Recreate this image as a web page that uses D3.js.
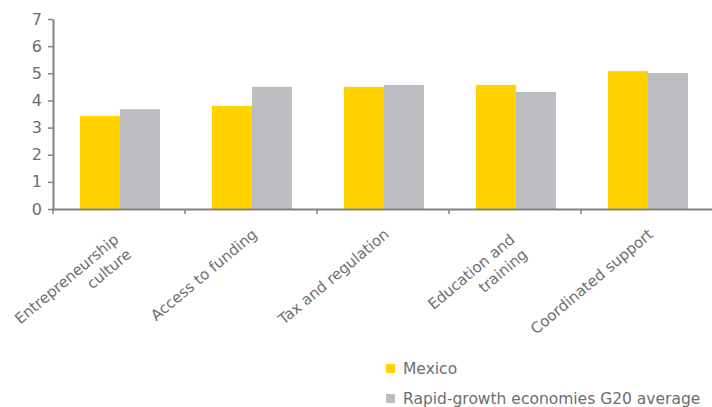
<!DOCTYPE html>
<html>
<head>
<meta charset="utf-8">
<script src="https://cdn.jsdelivr.net/npm/d3@7"></script>
<style>
  body { margin: 0; background: #fff; }
  svg { display: block; }
  text { font-family: "DejaVu Sans", sans-serif; fill: #6d6e71; }
</style>
</head>
<body>
<svg width="712" height="407"></svg>
<script>
const categories = ["Entrepreneurship culture", "Access to funding", "Tax and regulation", "Education and training", "Coordinated support"];
const categoryLines = [["Entrepreneurship", "culture"], ["Access to funding"], ["Tax and regulation"], ["Education and", "training"], ["Coordinated support"]];
const seriesNames = ["Mexico", "Rapid-growth economies G20 average"];
const mexico = [3.43, 3.80, 4.50, 4.57, 5.08];
const g20 = [3.68, 4.50, 4.57, 4.31, 5.01];
const yTicks = [0, 1, 2, 3, 4, 5, 6, 7];
const colors = ["#ffd200", "#bcbdc0"];

const plotLeft = 54, plotRight = 714, plotTop = 19, plotBottom = 209;
const axisColor = "#808285";

const svg = d3.select("svg");

const x = d3.scaleBand().domain(categories).range([plotLeft, plotRight]).padding(0);
const groupW = 80;
const xSub = d3.scaleBand().domain(seriesNames).range([0, groupW]);
const y = d3.scaleLinear().domain([0, 7]).range([plotBottom, plotTop]);

const rows = categories.map((c, i) => ({ cat: c, vals: [mexico[i], g20[i]] }));

// bars
const groups = svg.selectAll("g.grp")
  .data(rows)
  .enter()
  .append("g")
  .attr("class", "grp")
  .attr("transform", d => `translate(${x(d.cat) + (x.bandwidth() - groupW) / 2},0)`);

groups.selectAll("rect")
  .data(d => d.vals.map((v, j) => ({ name: seriesNames[j], v: v, j: j })))
  .enter()
  .append("rect")
  .attr("x", d => xSub(d.name))
  .attr("width", xSub.bandwidth())
  .attr("y", d => y(d.v))
  .attr("height", d => plotBottom - y(d.v))
  .attr("fill", d => colors[d.j]);

// y axis
const yAxis = svg.append("g")
  .attr("transform", `translate(${plotLeft - 1},0)`)
  .call(d3.axisLeft(y).tickValues(yTicks).tickFormat(d3.format("d")).tickSize(5).tickPadding(6).tickSizeOuter(0));
yAxis.select(".domain").attr("stroke", axisColor).attr("stroke-width", 2);
yAxis.selectAll(".tick line").attr("stroke", axisColor).attr("stroke-width", 1.5);
yAxis.selectAll(".tick text").style("font-size", "16px").style("font-family", "DejaVu Sans").attr("fill", "#6d6e71");

// x axis line and ticks at category boundaries
svg.append("line")
  .attr("x1", plotLeft - 2).attr("x2", 712)
  .attr("y1", plotBottom + 0.5).attr("y2", plotBottom + 0.5)
  .attr("stroke", axisColor).attr("stroke-width", 2);

svg.selectAll("line.xt")
  .data(categories)
  .enter()
  .append("line")
  .attr("class", "xt")
  .attr("x1", d => x(d) - 1).attr("x2", d => x(d) - 1)
  .attr("y1", plotBottom).attr("y2", plotBottom + 5)
  .attr("stroke", axisColor).attr("stroke-width", 1.5);

// rotated category labels (two-line ones sit a bit further back)
const labels = svg.selectAll("text.xl")
  .data(categories)
  .enter()
  .append("text")
  .attr("class", "xl")
  .attr("text-anchor", "end")
  .style("font-size", "15px")
  .attr("transform", d => `translate(${x(d) + x.bandwidth() / 2 + 6},236) rotate(-40)`);

labels.each(function(d, i) {
  const t = d3.select(this);
  const shift = categoryLines[i].length > 1 ? -8 : 0;
  categoryLines[i].forEach((line, k) => {
    t.append("tspan").attr("x", shift).attr("dy", k === 0 ? 0 : "1.3em").text(line);
  });
});

// legend
const legend = svg.selectAll("g.leg")
  .data(seriesNames)
  .enter()
  .append("g")
  .attr("class", "leg")
  .attr("transform", (d, i) => `translate(386,${364 + i * 30})`);

legend.append("rect")
  .attr("width", 9).attr("height", 9)
  .attr("fill", (d, i) => colors[i]);

legend.append("text")
  .attr("x", 17).attr("y", 10)
  .style("font-size", "15.5px")
  .text(d => d);
</script>
</body>
</html>
